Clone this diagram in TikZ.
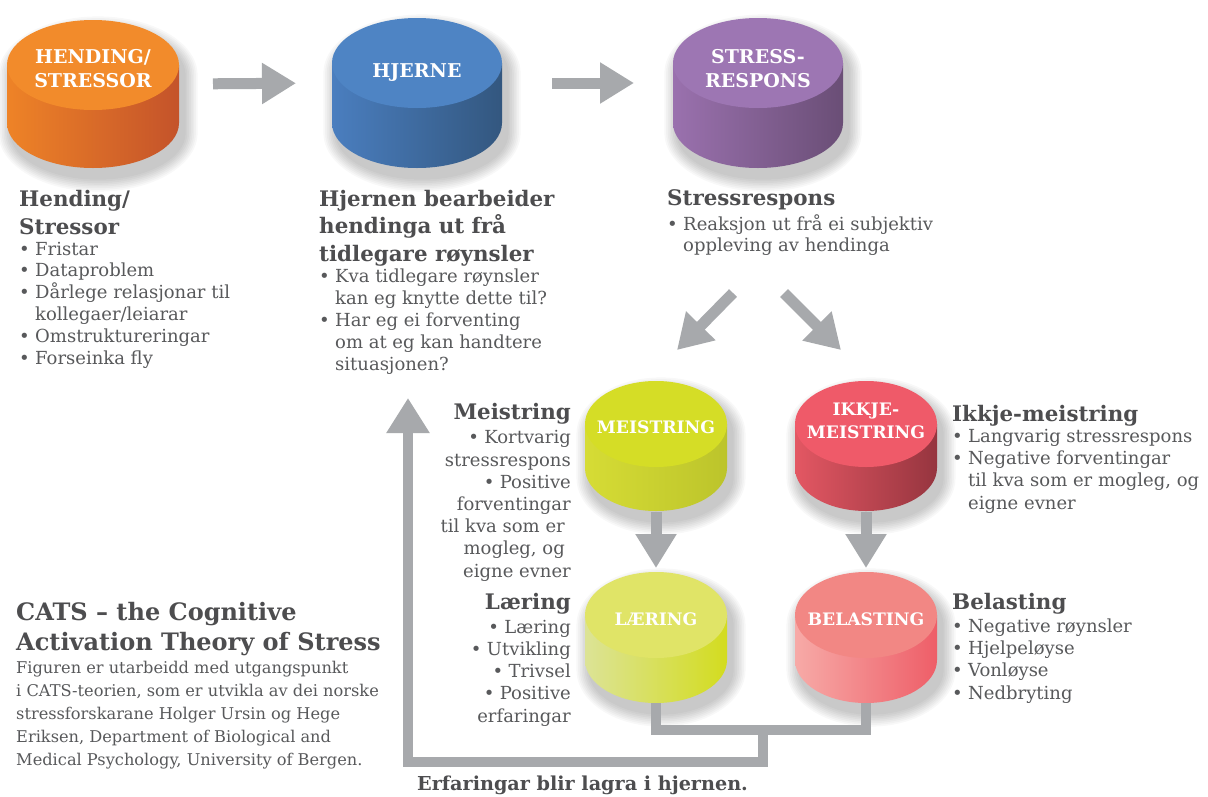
\documentclass[tikz,border=0pt]{standalone}
\usepackage{fontspec}
\setmainfont{DejaVu Serif}
\usetikzlibrary{arrows.meta}

\definecolor{headgray}{HTML}{4D4D4F}
\definecolor{txtgray}{HTML}{58595B}
\definecolor{arrgray}{HTML}{A7A9AC}
\definecolor{hendtop}{HTML}{F28B2B}\definecolor{hendl}{HTML}{EE8327}\definecolor{hendr}{HTML}{C4532A}
\definecolor{hjernetop}{HTML}{4E84C4}\definecolor{hjernel}{HTML}{4A7EBF}\definecolor{hjerner}{HTML}{33577F}
\definecolor{stresstop}{HTML}{9D76B3}\definecolor{stressl}{HTML}{9A71AE}\definecolor{stressr}{HTML}{6A4E76}
\definecolor{meistop}{HTML}{D5DD26}\definecolor{meisl}{HTML}{D6DC35}\definecolor{meisr}{HTML}{BCC42B}
\definecolor{ikkjetop}{HTML}{EF5A69}\definecolor{ikkjel}{HTML}{E35763}\definecolor{ikkjer}{HTML}{96353F}
\definecolor{laertop}{HTML}{E0E467}\definecolor{laerl}{HTML}{DCE396}\definecolor{laerr}{HTML}{D3DC1F}
\definecolor{belasttop}{HTML}{F28784}\definecolor{belastl}{HTML}{F7AAA7}\definecolor{belastr}{HTML}{EE5E68}

\newcommand{\bpt}{\makebox[16pt][l]{•}}
\newcommand{\bind}{\hspace*{16pt}}

% drum: name, cx, cy, rx, ry, h, top, left, right
\newcommand{\drum}[9]{%
  \foreach \k in {1,...,8}{
    \pgfmathsetmacro{\ex}{#4+\k*1.7}
    \pgfmathsetmacro{\ey}{#5+\k*1.7}
    \fill[black,opacity=0.026] ({#2+5-\ex},{#3+10}) arc[start angle=180,end angle=0,x radius=\ex pt,y radius=\ey pt]
      -- ++(0,#6) arc[start angle=0,end angle=-180,x radius=\ex pt,y radius=\ey pt] -- cycle;
  }
  \shade[left color=#8,right color=#9] ({#2-#4},#3) -- ++(0,#6)
    arc[start angle=180,end angle=360,x radius=#4pt,y radius=#5pt] -- ++(0,-#6) -- cycle;
  \fill[#7] (#2,#3) ellipse[x radius=#4pt,y radius=#5pt];
  \node[drumbox,minimum width=2*#4pt,minimum height=2*#5pt+#6pt] (#1) at (#2,{#3+#6/2}) {};
}

% multi-line nodes sit on the baseline of their last line
\tikzset{
  drumbox/.style={inner sep=0pt,outer sep=0pt},
  drumlbl/.style={text=white,align=center,anchor=base,inner sep=0pt,
    font=\bfseries\fontsize{19}{24}\selectfont},
  smalllbl/.style={drumlbl,font=\bfseries\fontsize{17.2}{23}\selectfont},
  headtxt/.style={text=headgray,inner sep=0pt,anchor=base west,align=left,
    font=\bfseries\fontsize{21.4}{27.8}\selectfont},
  bodytxt/.style={text=txtgray,inner sep=0pt,anchor=base west,align=left,
    font=\fontsize{18}{21.8}\selectfont},
  widebody/.style={bodytxt,font=\fontsize{18}{22.2}\selectfont},
  bigarrow/.style={arrgray,line width=11pt,-{Triangle[length=34pt,width=39pt]}},
  flowline/.style={arrgray,line width=10pt}
}

\begin{document}
\begin{tikzpicture}[x=1pt,y=-1pt]
\useasboundingbox (0,0) rectangle (1208,796);
\fill[white] (0,0) rectangle (1208,796);

% drums
\drum{hend}{93}{65}{86}{45}{58}{hendtop}{hendl}{hendr}
\drum{hjerne}{417}{63}{85}{45}{60}{hjernetop}{hjernel}{hjerner}
\drum{stress}{758}{63}{85}{45}{60}{stresstop}{stressl}{stressr}
\drum{meis}{656}{424}{71}{43}{44}{meistop}{meisl}{meisr}
\drum{ikkje}{866}{424}{71}{43}{44}{ikkjetop}{ikkjel}{ikkjer}
\drum{laer}{656}{615}{71}{43}{45}{laertop}{laerl}{laerr}
\drum{belast}{866}{615}{71}{43}{45}{belasttop}{belastl}{belastr}

\node[drumlbl] (hend-lbl) at (93,87) {HENDING/\\STRESSOR};
\node[drumlbl] (hjerne-lbl) at (417,77) {HJERNE};
\node[drumlbl] (stress-lbl) at (758,87) {STRESS-\\RESPONS};
\node[smalllbl] (meis-lbl) at (656,433) {MEISTRING};
\node[smalllbl] (ikkje-lbl) at (866,438) {IKKJE-\\MEISTRING};
\node[smalllbl] (laer-lbl) at (656,625) {LÆRING};
\node[smalllbl] (belast-lbl) at (866,625) {BELASTING};

% arrows
\draw[bigarrow,shorten <=34pt,shorten >=36pt] ([yshift=10pt]hend.east) -- ([yshift=10pt]hjerne.west);
\draw[bigarrow,shorten <=50pt,shorten >=39pt] ([yshift=10pt]hjerne.east) -- ([yshift=10pt]stress.west);
\coordinate (fork-l) at (733,293);
\coordinate (fork-r) at (784,293);
\coordinate (meis-in) at (677,350);
\coordinate (ikkje-in) at (841,350);
\draw[bigarrow] (fork-l) -- (meis-in);
\draw[bigarrow] (fork-r) -- (ikkje-in);
\draw[bigarrow,shorten <=1pt,shorten >=4pt] (meis.south) -- (laer.north);
\draw[bigarrow,shorten <=1pt,shorten >=4pt] (ikkje.south) -- (belast.north);

% feedback to the brain
\coordinate (store) at (763,730);
\coordinate (brain-in) at (408,398);
\draw[flowline] (laer.south) -- ++(0,27) -| (belast.south);
\draw[flowline,-{Triangle[length=35pt,width=41pt]}] (store) -- ++(0,32) -| (brain-in);

% texts
\node[headtxt] (hend-head) at (19,234) {Hending/\\Stressor};
\node[bodytxt] (hend-list) at (19,364) {\bpt Fristar\\\bpt Dataproblem\\\bpt Dårlege relasjonar til\\\bind kollegaer/leiarar\\\bpt Omstruktureringar\\\bpt Forseinka fly};

\node[headtxt,font=\bfseries\fontsize{21.4}{27.5}\selectfont] (hjerne-head) at (319,261) {Hjernen bearbeider\\hendinga ut frå\\tidlegare røynsler};
\node[bodytxt] (hjerne-list) at (319,370) {\bpt Kva tidlegare røynsler\\\bind kan eg knytte dette til?\\\bpt Har eg ei forventing\\\bind om at eg kan handtere\\\bind situasjonen?};

\node[headtxt] (stress-head) at (667,205) {Stressrespons};
\node[bodytxt,font=\fontsize{18}{21}\selectfont] (stress-list) at (667,251) {\bpt Reaksjon ut frå ei subjektiv\\\bind oppleving av hendinga};

\node[headtxt,anchor=base east,align=right] (meis-head) at (571,419) {Meistring};
\node[widebody,anchor=base east,align=right] (meis-list) at (571,577) {\bpt Kortvarig\\stressrespons\\\bpt Positive\\forventingar\\til kva som er\kern6pt\\mogleg, og\kern6pt\\eigne evner};

\node[headtxt,anchor=base east,align=right] (laer-head) at (571,609) {Læring};
\node[widebody,anchor=base east,align=right] (laer-list) at (571,722) {\bpt Læring\\\bpt Utvikling\\\bpt Trivsel\\\bpt Positive\\erfaringar};

\node[headtxt] (ikkje-head) at (952,421) {Ikkje-meistring};
\node[widebody] (ikkje-list) at (952,509) {\bpt Langvarig stressrespons\\\bpt Negative forventingar\\\bind til kva som er mogleg, og\\\bind eigne evner};

\node[headtxt] (belast-head) at (952,609) {Belasting};
\node[widebody] (belast-list) at (952,699) {\bpt Negative røynsler\\\bpt Hjelpeløyse\\\bpt Vonløyse\\\bpt Nedbryting};

\node[headtxt,font=\bfseries\fontsize{24}{30}\selectfont] (cats-head) at (16,650) {CATS – the Cognitive\\Activation Theory of Stress};
\node[bodytxt,font=\fontsize{16.2}{23}\selectfont] (cats-note) at (16,765) {Figuren er utarbeidd med utgangspunkt\\i CATS-teorien, som er utvikla av dei norske\\stressforskarane Holger Ursin og Hege\\Eriksen, Department of Biological and\\Medical Psychology, University of Bergen.};

\node[headtxt,font=\bfseries\fontsize{19.2}{22}\selectfont] (store-lbl) at (417,790) {Erfaringar blir lagra i hjernen.};
\end{tikzpicture}
\end{document}
